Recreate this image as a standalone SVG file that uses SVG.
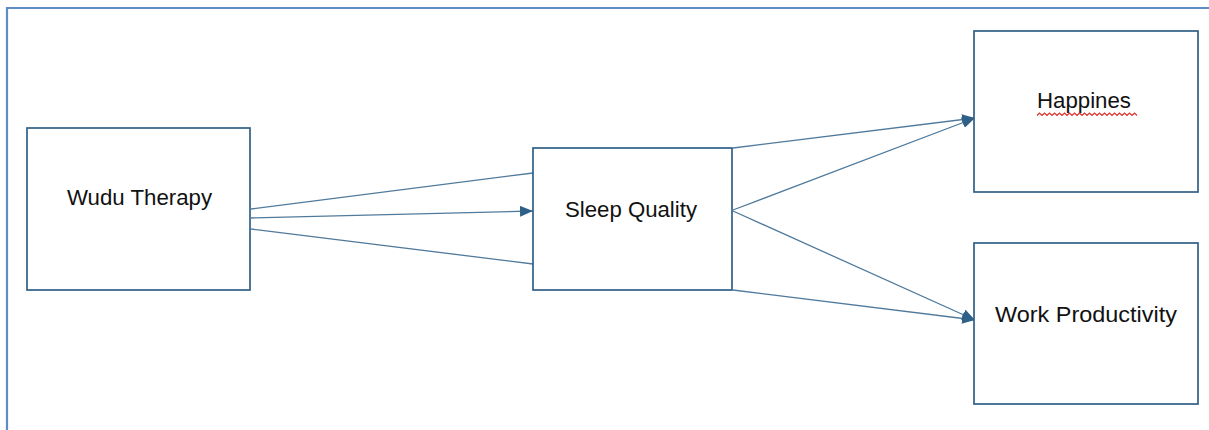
<svg xmlns="http://www.w3.org/2000/svg" width="1209" height="430" viewBox="0 0 1209 430">
<style>
.frame{fill:none;stroke:#5f8cc6;stroke-width:2.2}
.box{fill:#ffffff;stroke:#2f6088;stroke-width:1.7}
.lbl{font-family:"Liberation Sans",Arial,sans-serif;font-size:22.5px;fill:#111111;text-anchor:middle}
.con{fill:none;stroke:#4f7a9c;stroke-width:1.3}
</style>
<defs>
<marker id="arr" viewBox="0 0 13 11" refX="13" refY="5.5" markerWidth="13" markerHeight="11" markerUnits="userSpaceOnUse" orient="auto">
<path d="M0,0 L13,5.5 L0,11 Z" fill="#2f6088"/>
</marker>
</defs>
<rect width="1209" height="430" fill="#ffffff"/>
<path class="frame" d="M7,431 L7,8 L1210,8"/>
<g id="connectors">
<line class="con" x1="251" y1="209" x2="533" y2="173"/>
<line class="con" x1="251" y1="218" x2="533" y2="211" marker-end="url(#arr)"/>
<line class="con" x1="251" y1="229" x2="533" y2="264"/>
<line class="con" x1="733" y1="148" x2="975" y2="118" marker-end="url(#arr)"/>
<line class="con" x1="733" y1="210" x2="975" y2="118" marker-end="url(#arr)"/>
<line class="con" x1="733" y1="211" x2="975" y2="320" marker-end="url(#arr)"/>
<line class="con" x1="733" y1="290" x2="975" y2="320" marker-end="url(#arr)"/>
</g>
<g id="wudu">
<rect class="box" x="27" y="128" width="223" height="162"/>
<text class="lbl" x="139.5" y="205" textLength="145" lengthAdjust="spacingAndGlyphs">Wudu Therapy</text>
</g>
<g id="sleep">
<rect class="box" x="533" y="148" width="199" height="142"/>
<text class="lbl" x="631" y="216.5" textLength="132" lengthAdjust="spacingAndGlyphs">Sleep Quality</text>
</g>
<g id="happines">
<rect class="box" x="974" y="31" width="224" height="161"/>
<text class="lbl" x="1084" y="107.5" textLength="94" lengthAdjust="spacingAndGlyphs">Happines</text>
<path d="M1037,115.5 l2.5,-2.5 l2.5,2.5 l2.5,-2.5 l2.5,2.5 l2.5,-2.5 l2.5,2.5 l2.5,-2.5 l2.5,2.5 l2.5,-2.5 l2.5,2.5 l2.5,-2.5 l2.5,2.5 l2.5,-2.5 l2.5,2.5 l2.5,-2.5 l2.5,2.5 l2.5,-2.5 l2.5,2.5 l2.5,-2.5 l2.5,2.5 l2.5,-2.5 l2.5,2.5 l2.5,-2.5 l2.5,2.5 l2.5,-2.5 l2.5,2.5 l2.5,-2.5 l2.5,2.5 l2.5,-2.5 l2.5,2.5 l2.5,-2.5 l2.5,2.5 l2.5,-2.5 l2.5,2.5 l2.5,-2.5 l2.5,2.5 l2.5,-2.5 l2.5,2.5 l2.5,-2.5 l2.5,2.5" fill="none" stroke="#e0302a" stroke-width="1.2"/>
</g>
<g id="work">
<rect class="box" x="974" y="243" width="224" height="161"/>
<text class="lbl" x="1086" y="321.5" textLength="182" lengthAdjust="spacingAndGlyphs">Work Productivity</text>
</g>
</svg>
